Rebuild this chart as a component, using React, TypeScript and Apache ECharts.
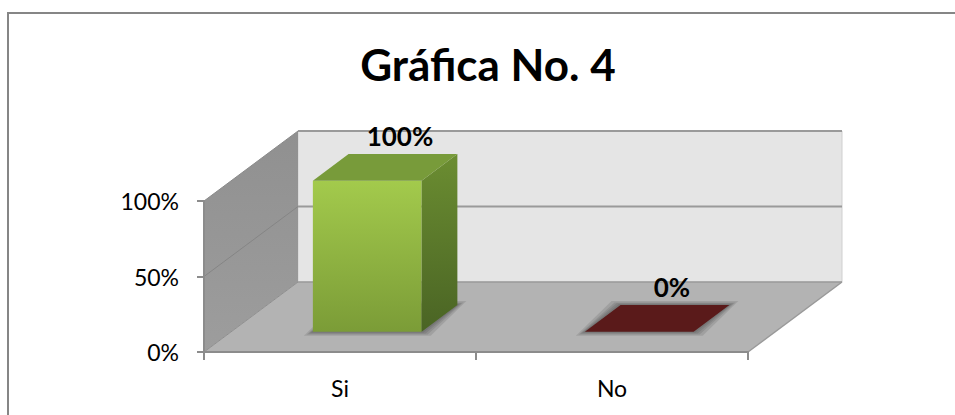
import React, { useEffect, useRef } from 'react';
import * as echarts from 'echarts';

const categories = ['Si', 'No'];
const values = [1.0, 0.0];
const yMin = 0;
const yMax = 1;
const yInterval = 0.5;
const titleText = 'Gráfica No. 4';

export default function App() {
  const ref = useRef<HTMLDivElement>(null);

  useEffect(() => {
    const chart = echarts.init(ref.current!, null, { renderer: 'svg' });
    const DX = 94;
    const DY = -70;
    const T0 = 0.29;
    const T1 = 0.67;
    const BAR_RATIO = 0.4;
    const FONT = 'Lato, "Open Sans", sans-serif';
    const palette = [
      { front: ['#a3ca4c', '#7b9c37'], side: ['#6b8d31', '#4a6424'], top: '#789b3a' },
      { front: ['#5a1a1a', '#5a1a1a'], side: ['#4a1414', '#4a1414'], top: '#5a1a1a' },
    ];

    const renderWalls = (params: any, api: any) => {
      const cs = params.coordSys;
      const x0 = cs.x;
      const x1 = cs.x + cs.width;
      const yb = api.coord([0, yMin])[1];
      const yt = api.coord([0, yMax])[1];
      const children: any[] = [];
      children.push({
        type: 'polygon',
        shape: { points: [[x0 + DX, yt + DY], [x1 + DX, yt + DY], [x1 + DX, yb + DY], [x0 + DX, yb + DY]] },
        style: { fill: '#e5e5e5', stroke: '#cfcfcf', lineWidth: 1 },
      });
      children.push({
        type: 'polygon',
        shape: { points: [[x0, yt], [x0 + DX, yt + DY], [x0 + DX, yb + DY], [x0, yb]] },
        style: {
          fill: new echarts.graphic.LinearGradient(0, 0, 0, 1, [
            { offset: 0, color: '#909090' },
            { offset: 1, color: '#9d9d9d' },
          ]),
        },
      });
      children.push({
        type: 'polygon',
        shape: { points: [[x0, yb], [x0 + DX, yb + DY], [x1 + DX, yb + DY], [x1, yb]] },
        style: { fill: '#b3b3b3' },
      });
      for (let v = yMin + yInterval; v < yMax - 1e-9; v += yInterval) {
        const y = api.coord([0, v])[1];
        children.push({
          type: 'line',
          shape: { x1: x0, y1: y, x2: x0 + DX, y2: y + DY },
          style: { stroke: '#858585', lineWidth: 1 },
        });
        children.push({
          type: 'line',
          shape: { x1: x0 + DX, y1: y + DY, x2: x1 + DX, y2: y + DY },
          style: { stroke: '#9a9a9a', lineWidth: 2 },
        });
      }
      children.push({
        type: 'line',
        shape: { x1: x0, y1: yt, x2: x0 + DX, y2: yt + DY },
        style: { stroke: '#8a8a8a', lineWidth: 1 },
      });
      children.push({
        type: 'line',
        shape: { x1: x0 + DX, y1: yt + DY, x2: x1 + DX, y2: yt + DY },
        style: { stroke: '#9a9a9a', lineWidth: 2 },
      });
      children.push({
        type: 'line',
        shape: { x1: x0 + DX, y1: yb + DY, x2: x1 + DX, y2: yb + DY },
        style: { stroke: '#9a9a9a', lineWidth: 1.5 },
      });
      children.push({
        type: 'line',
        shape: { x1: x0, y1: yb, x2: x0 + DX, y2: yb + DY },
        style: { stroke: '#8e8e8e', lineWidth: 1 },
      });
      children.push({
        type: 'line',
        shape: { x1: x1, y1: yb, x2: x1 + DX, y2: yb + DY },
        style: { stroke: '#999999', lineWidth: 1.5 },
      });
      return { type: 'group', children };
    };

    const renderBar = (params: any, api: any) => {
      const i = params.dataIndex;
      const cat = api.value(0);
      const v = api.value(1);
      const base = api.coord([cat, 0]);
      const top = api.coord([cat, v]);
      const bw = api.size([1, 0])[0] * BAR_RATIO;
      const xl = base[0] - bw / 2;
      const xr = base[0] + bw / 2;
      const p = (x: number, y: number, t: number) => [x + t * DX, y + t * DY];
      const fbl = p(xl, base[1], T0), fbr = p(xr, base[1], T0);
      const ftl = p(xl, top[1], T0), ftr = p(xr, top[1], T0);
      const bbl = p(xl, base[1], T1), bbr = p(xr, base[1], T1);
      const btl = p(xl, top[1], T1), btr = p(xr, top[1], T1);
      const c = palette[i % palette.length];
      const children: any[] = [];
      // soft shadow around the footprint
      [9, 6, 4, 2].forEach((e) => {
        children.push({
          type: 'polygon',
          shape: {
            points: [
              [fbl[0] - e, fbl[1] + e * 0.45],
              [fbr[0] + e, fbr[1] + e * 0.45],
              [bbr[0] + e, bbr[1] - e * 0.45],
              [bbl[0] - e, bbl[1] - e * 0.45],
            ],
          },
          style: { fill: 'rgba(40,40,40,0.13)' },
        });
      });
      if (base[1] - top[1] > 0.5) {
        children.push({
          type: 'polygon',
          shape: { points: [ftl, ftr, fbr, fbl] },
          style: {
            fill: new echarts.graphic.LinearGradient(0, 0, 0, 1, [
              { offset: 0, color: c.front[0] },
              { offset: 1, color: c.front[1] },
            ]),
          },
        });
        children.push({
          type: 'polygon',
          shape: { points: [ftr, btr, bbr, fbr] },
          style: {
            fill: new echarts.graphic.LinearGradient(0, 0, 0, 1, [
              { offset: 0, color: c.side[0] },
              { offset: 1, color: c.side[1] },
            ]),
          },
        });
      }
      children.push({
        type: 'polygon',
        shape: { points: [ftl, ftr, btr, btl] },
        style: { fill: c.top },
      });
      const lx = (btl[0] + btr[0]) / 2 - 3;
      const ly = btl[1] - 18;
      children.push({
        type: 'text',
        x: lx,
        y: ly,
        style: {
          text: Math.round(v * 100) + '%',
          fontFamily: FONT,
          fontWeight: 'bold',
          fontSize: 26,
          fill: '#000',
          align: 'center',
          verticalAlign: 'middle',
        },
      });
      return { type: 'group', children };
    };

    const option: any = {
      animation: false,
      backgroundColor: '#ffffff',
      grid: { left: 204, right: 207, top: 201, bottom: 63, containLabel: false },
      xAxis: {
        type: 'category',
        data: categories,
        boundaryGap: true,
        z: 5,
        axisLine: { show: true, lineStyle: { color: '#8c8c8c', width: 2 } },
        axisTick: { show: true, length: 8, lineStyle: { color: '#8c8c8c', width: 2 } },
        axisLabel: { margin: 24, fontSize: 23, fontFamily: FONT, color: '#000' },
        splitLine: { show: false },
      },
      yAxis: {
        type: 'value',
        min: yMin,
        max: yMax,
        interval: yInterval,
        z: 5,
        axisLine: { show: true, lineStyle: { color: '#8c8c8c', width: 2 } },
        axisTick: { show: true, length: 7, lineStyle: { color: '#8c8c8c', width: 2 } },
        axisLabel: {
          margin: 25,
          fontSize: 23,
          fontFamily: FONT,
          color: '#000',
          formatter: (val: number) => Math.round(val * 100) + '%',
        },
        splitLine: { show: false },
      },
      graphic: [
        {
          type: 'rect',
          shape: { x: 8, y: 13, width: 2000, height: 2000 },
          style: { fill: 'none', stroke: '#868686', lineWidth: 2 },
          silent: true,
        },
        {
          type: 'text',
          x: 488,
          y: 64,
          style: {
            text: titleText,
            fontFamily: FONT,
            fontWeight: 'bold',
            fontSize: 44,
            fill: '#000',
            align: 'center',
            verticalAlign: 'middle',
          },
        },
      ],
      series: [
        {
          type: 'custom',
          name: 'walls',
          z: 1,
          silent: true,
          renderItem: renderWalls,
          data: [[0, 0]],
          encode: { x: 0, y: 1 },
        },
        {
          type: 'custom',
          name: 'values',
          z: 2,
          renderItem: renderBar,
          data: categories.map((_, i) => [i, values[i]]),
          encode: { x: 0, y: 1 },
        },
      ],
    };
    chart.setOption(option);
    return () => chart.dispose();
  }, []);

  return (
    <div
      ref={ref}
      style={{ position: 'fixed', left: 0, top: 0, width: 955, height: 415 }}
    />
  );
}
